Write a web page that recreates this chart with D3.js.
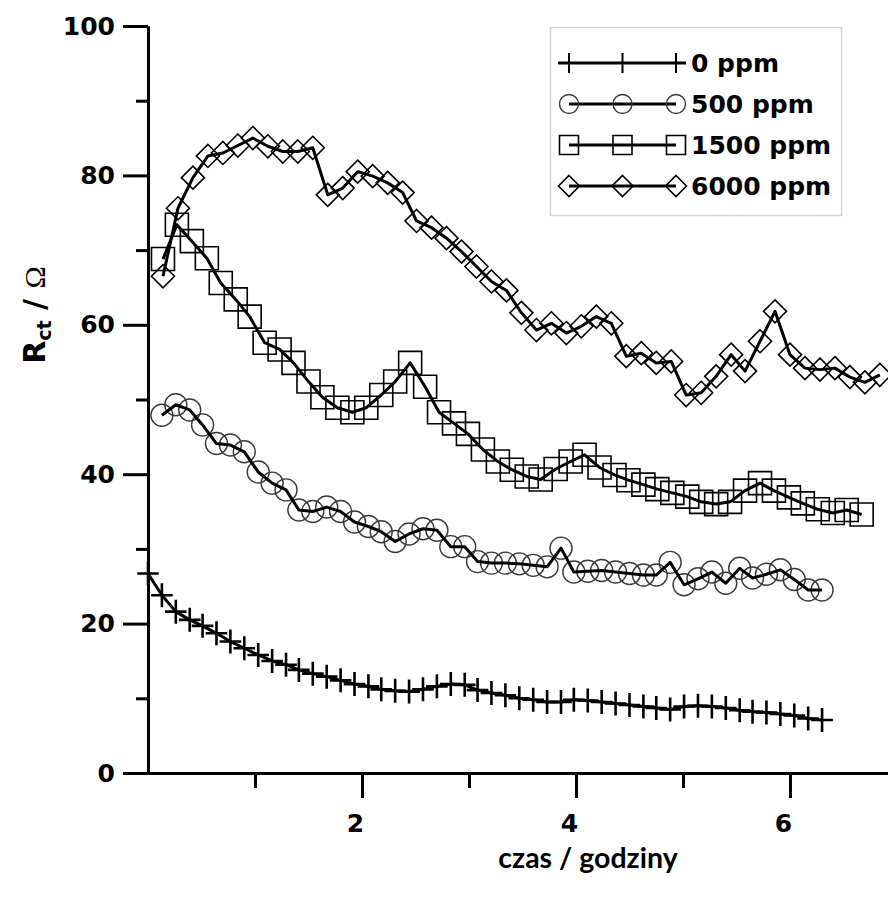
<!DOCTYPE html>
<html>
<head>
<meta charset="utf-8">
<script src="https://cdn.jsdelivr.net/npm/d3@7"></script>
<style>
  body { margin: 0; background: #fff; }
  svg { display: block; }
</style>
</head>
<body>
<div id="chart"></div>
<script>
// time grids (godziny)
var czasA = [0.00, 0.13, 0.26, 0.39, 0.51, 0.64, 0.77, 0.90, 1.03, 1.16, 1.29, 1.41, 1.54, 1.67, 1.80, 1.93, 2.06, 2.18, 2.31, 2.44,
             2.57, 2.70, 2.83, 2.96, 3.08, 3.21, 3.34, 3.47, 3.60, 3.73, 3.86, 3.98, 4.11, 4.24, 4.37, 4.50, 4.63, 4.75, 4.88, 5.01,
             5.14, 5.27, 5.40, 5.53, 5.65, 5.78, 5.91, 6.04, 6.17, 6.30];
var czasB = [0.14, 0.27, 0.41, 0.55, 0.68, 0.82, 0.95, 1.09, 1.23, 1.36, 1.50, 1.63, 1.77, 1.91, 2.04, 2.18, 2.31, 2.45, 2.59, 2.72,
             2.86, 2.99, 3.13, 3.27, 3.40, 3.54, 3.67, 3.81, 3.95, 4.08, 4.22, 4.36, 4.49, 4.63, 4.76, 4.90, 5.04, 5.17, 5.31, 5.44,
             5.58, 5.72, 5.85, 5.99, 6.12, 6.26, 6.40, 6.53, 6.67];
var czasC = [0.14, 0.28, 0.42, 0.56, 0.70, 0.84, 0.98, 1.12, 1.26, 1.40, 1.54, 1.68, 1.82, 1.96, 2.10, 2.24, 2.38, 2.51, 2.65, 2.79,
             2.93, 3.07, 3.21, 3.35, 3.49, 3.63, 3.77, 3.91, 4.05, 4.19, 4.33, 4.47, 4.61, 4.75, 4.89, 5.03, 5.17, 5.31, 5.45, 5.58,
             5.72, 5.86, 6.00, 6.14, 6.28, 6.42, 6.56, 6.70, 6.84];

// Rct values (ohm)
var ppm0 = [26.7, 23.8, 21.6, 20.5, 19.7, 18.7, 17.6, 16.7, 15.8, 15.0, 14.5, 13.8, 13.3, 12.9, 12.4, 11.9, 11.6, 11.2, 11.0, 10.9,
            11.2, 11.6, 11.9, 11.8, 11.1, 10.7, 10.4, 10.0, 9.8, 9.5, 9.5, 9.8, 9.7, 9.5, 9.3, 9.1, 8.9, 8.7, 8.5, 8.9,
            9.0, 8.9, 8.7, 8.4, 8.2, 8.1, 7.9, 7.7, 7.3, 7.1];
var ppm500 = [47.9, 49.3, 48.6, 46.6, 44.1, 43.9, 43.0, 40.3, 38.8, 37.9, 35.2, 35.0, 35.6, 35.0, 33.6, 33.0, 32.3, 31.0, 32.0,
              32.7, 32.5, 30.3, 30.3, 28.3, 28.1, 28.1, 28.0, 27.8, 27.6, 30.1, 26.9, 27.0, 27.1, 26.9, 26.7, 26.5, 26.5, 28.2,
              25.2, 26.0, 26.9, 25.4, 27.4, 26.1, 26.6, 27.2, 25.9, 24.5, 24.5];
var ppm1500 = [68.8, 73.4, 71.2, 68.9, 65.6, 63.4, 61.1, 57.6, 56.7, 54.9, 52.4, 50.3, 48.9, 48.3, 48.9, 50.6, 52.4, 54.9, 51.7,
               48.3, 46.8, 45.4, 43.3, 41.7, 40.6, 39.7, 39.3, 40.7, 41.7, 42.6, 40.9, 39.9, 39.2, 38.6, 38.0, 37.5, 37.0, 36.3,
               36.0, 36.3, 37.8, 38.8, 37.8, 36.9, 36.1, 35.3, 34.8, 35.2, 34.6];
var ppm6000 = [66.5, 75.6, 79.7, 82.6, 83.0, 84.0, 85.0, 83.9, 83.2, 83.2, 83.7, 77.4, 78.3, 80.5, 79.9, 79.0, 77.7, 73.9, 73.0,
               71.6, 69.8, 67.8, 65.8, 64.6, 61.6, 59.3, 60.2, 58.9, 59.8, 61.1, 60.2, 55.8, 56.2, 54.9, 55.1, 50.6, 50.9, 53.1,
               56.0, 53.8, 57.8, 61.8, 56.0, 54.2, 54.0, 54.2, 53.0, 52.3, 53.3];

var seriesNames = ["0 ppm", "500 ppm", "1500 ppm", "6000 ppm"];
var yTicks = [0, 20, 40, 60, 80, 100];
var yMinor = [10, 30, 50, 70, 90];
var xTicks = [2, 4, 6];
var xMinor = [1, 3, 5];

// set the dimensions and margins of the graph
var margin = {top: 26, right: 0, bottom: 125, left: 148},
    width = 888 - margin.left - margin.right,
    height = 898 - margin.top - margin.bottom;

var root = d3.select("#chart")
  .append("svg")
    .attr("width", 888)
    .attr("height", 898);

var svg = root.append("g")
    .attr("transform", "translate(" + margin.left + "," + margin.top + ")");

var x = d3.scaleLinear().domain([0, 6.916]).range([0, width]);
var y = d3.scaleLinear().domain([0, 100]).range([height, 0]);

/**
 * marker path around (0,0)
 */
function markerPath(kind, s) {
  if (kind == "cross") return "M0," + (-s) + "V" + s + "M" + (-s * 0.9) + ",0H" + (s * 0.9);
  if (kind == "circle") return d3.symbol(d3.symbolCircle, Math.PI * s * s)();
  if (kind == "square") return "M" + (-s) + "," + (-s) + "h" + (2 * s) + "v" + (2 * s) + "h" + (-2 * s) + "Z";
  return "M0," + (-s) + "L" + s + ",0L0," + s + "L" + (-s) + ",0Z";
}

var series = [
  {name: seriesNames[0], t: czasA, v: ppm0, kind: "cross", size: 12, stroke: "#000", sw: 2.6},
  {name: seriesNames[1], t: czasA.slice(1), v: ppm500, kind: "circle", size: 11, stroke: "#3a3a3a", sw: 1.4},
  {name: seriesNames[2], t: czasB, v: ppm1500, kind: "square", size: 11.5, stroke: "#000", sw: 1.6},
  {name: seriesNames[3], t: czasC, v: ppm6000, kind: "diamond", size: 11.5, stroke: "#000", sw: 1.6}
];

var tickFont = "'DejaVu Sans', sans-serif";

// axes
svg.append("g")
  .call(d3.axisLeft(y).tickValues(yTicks).tickSize(25).tickSizeOuter(0).tickPadding(8));
svg.append("g")
  .call(d3.axisLeft(y).tickValues(yMinor).tickSize(12).tickSizeOuter(0).tickFormat(""));

var xAxis = svg.append("g")
  .attr("transform", "translate(0," + height + ")")
  .call(d3.axisBottom(x).tickValues(xTicks).tickSize(25).tickSizeOuter(0).tickPadding(16).tickFormat(d3.format("d")));
svg.append("g")
  .attr("transform", "translate(0," + height + ")")
  .call(d3.axisBottom(x).tickValues(xMinor).tickSize(15).tickSizeOuter(0).tickFormat(""));

svg.selectAll(".domain").attr("stroke", "#000").attr("stroke-width", 3);
svg.selectAll(".tick line").attr("stroke", "#000").attr("stroke-width", 3);
svg.selectAll(".tick text")
  .attr("fill", "#000")
  .style("font-family", tickFont)
  .style("font-weight", "bold")
  .style("font-size", "25px");
xAxis.selectAll(".tick text").attr("dx", -7);

// data
var line = d3.line()
  .x(function(d) { return x(d[0]); })
  .y(function(d) { return y(d[1]); });

series.forEach(function(s) {
  var pts = s.t.map(function(t, i) { return [t, s.v[i]]; });
  var g = svg.append("g");
  g.selectAll("path.mk")
    .data(pts)
    .enter()
    .append("path")
      .attr("class", "mk")
      .attr("d", markerPath(s.kind, s.size))
      .attr("transform", function(d) { return "translate(" + x(d[0]) + "," + y(d[1]) + ")"; })
      .attr("fill", "none")
      .attr("stroke", s.stroke)
      .attr("stroke-width", s.sw);
  g.append("path")
    .datum(pts)
    .attr("d", line)
    .attr("fill", "none")
    .attr("stroke", "#000")
    .attr("stroke-width", 3)
    .attr("stroke-linejoin", "round");
});

// legend
var legend = root.append("g");
legend.append("rect")
  .attr("x", 550.5).attr("y", 27.5)
  .attr("width", 291).attr("height", 188)
  .attr("fill", "#fff")
  .attr("stroke", "#d4d4d4")
  .attr("stroke-width", 1.5);

var legX = [569, 622.5, 676];
series.forEach(function(s, i) {
  var cy = 63 + i * 41;
  var row = legend.append("g").attr("transform", "translate(0," + cy + ")");
  var l0 = s.kind == "cross" ? 558 : legX[0];
  var l1 = s.kind == "cross" ? 686 : legX[2];
  row.append("line")
    .attr("x1", l0).attr("x2", l1)
    .attr("stroke", "#000").attr("stroke-width", 3);
  legX.forEach(function(lx) {
    row.append("path")
      .attr("d", s.kind == "cross" ? "M0,-10V10" : markerPath(s.kind, s.kind == "diamond" ? 10.5 : 9.5))
      .attr("transform", "translate(" + lx + ",0)")
      .attr("fill", "none")
      .attr("stroke", s.stroke)
      .attr("stroke-width", s.kind == "cross" ? 2 : s.sw);
  });
  row.append("text")
    .attr("x", 691).attr("y", 9)
    .style("font-family", tickFont)
    .style("font-weight", "bold")
    .style("font-size", "25px")
    .text(s.name);
});

// axis titles
var yl = root.append("text")
  .attr("transform", "translate(45,315) rotate(-90)")
  .attr("text-anchor", "middle")
  .style("font-family", tickFont)
  .style("font-weight", "bold")
  .style("font-size", "30px");
yl.append("tspan").text("R");
yl.append("tspan").attr("dy", 6).style("font-size", "19px").text("ct");
yl.append("tspan").attr("dy", -6).text(" / ");
yl.append("tspan").style("font-family", "'Liberation Serif', serif").style("font-weight", "normal").text("\u03A9");

root.append("text")
  .attr("x", 588).attr("y", 868)
  .attr("text-anchor", "middle")
  .style("font-family", "Lato, 'Open Sans', sans-serif")
  .style("font-weight", "bold")
  .style("font-size", "28.5px")
  .text("czas / godziny");
</script>
</body>
</html>
